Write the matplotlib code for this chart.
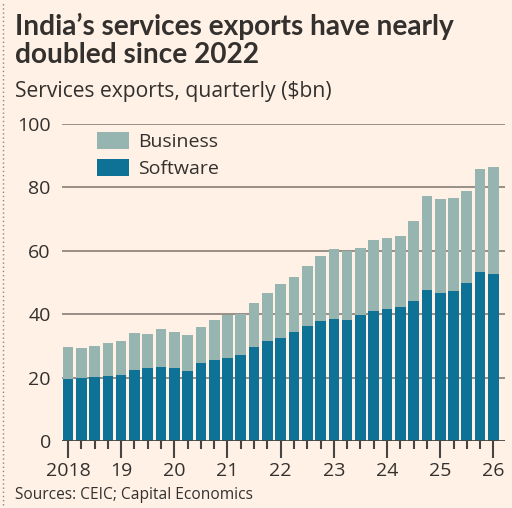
import numpy as np
import matplotlib
matplotlib.use("Agg")
from matplotlib import pyplot as plt
from matplotlib.lines import Line2D

# quarterly, 2018 Q1 .. 2026 Q1
quarters = [f"{y}Q{q}" for y in range(2018, 2026) for q in range(1, 5)] + ["2026Q1"]
software = [19.5, 19.7, 20.2, 20.5, 20.9, 22.5, 23.0, 23.4, 23.0, 22.2, 24.6, 25.5,
            26.3, 27.2, 29.5, 31.6, 32.4, 34.4, 36.2, 37.7, 38.4, 38.1, 39.6, 40.9,
            41.7, 42.1, 44.2, 47.7, 46.8, 47.3, 49.7, 53.2, 52.8]
business = [10.0, 9.5, 9.6, 10.4, 10.5, 11.5, 10.7, 11.8, 11.4, 11.3, 11.4, 12.5,
            13.4, 12.8, 14.0, 15.2, 17.1, 17.4, 19.1, 20.7, 22.1, 21.8, 21.3, 22.6,
            22.2, 22.6, 25.2, 29.5, 29.4, 29.4, 29.2, 32.5, 33.7]
year_labels = ["2018", "19", "20", "21", "22", "23", "24", "25", "26"]
y_ticks = [0, 20, 40, 60, 80, 100]

BG = "#FFF1E5"
TEXT = "#33302E"
SW_COL = "#0D7296"
BUS_COL = "#97B5B0"
GRID = "#7D746E"

plt.rcParams['font.family'] = ['Open Sans', 'DejaVu Sans']

fig = plt.figure(figsize=(5.12, 5.08), dpi=100, facecolor=BG)
ax = fig.add_axes([0.121, 0.132, 0.865, 0.624], facecolor=BG)

x = np.arange(len(quarters))
ax.bar(x, software, width=0.8, color=SW_COL, zorder=2, label="Software")
ax.bar(x, business, width=0.8, bottom=software, color=BUS_COL, zorder=2, label="Business")

ax.set_xlim(-0.45, 32.86)
ax.set_ylim(0, 100)
ax.set_yticks(y_ticks)
ax.set_yticklabels([str(v) for v in y_ticks], fontsize=14, color=TEXT)
ax.tick_params(axis="y", length=0, pad=8)
for v in y_ticks[1:]:
    ax.axhline(v, color=GRID, lw=1.1, zorder=1)
ax.axhline(0, color="#4a4440", lw=2, zorder=3)

ax.set_xticks(x[::4])
ax.set_xticklabels(year_labels, fontsize=14, color=TEXT)
ax.set_xticks(x, minor=True)
ax.tick_params(axis="x", which="major", length=12, width=1.5, color="#4a4440", pad=3)
ax.tick_params(axis="x", which="minor", length=6, width=1.5, color="#4a4440")

for s in ax.spines.values():
    s.set_visible(False)

handles, labels = ax.get_legend_handles_labels()
leg = ax.legend(handles[::-1], labels[::-1], loc="upper left", bbox_to_anchor=(0.079, 0.975),
                frameon=False, fontsize=14, handlelength=1.65, handleheight=1.0,
                labelspacing=0.4, handletextpad=0.45, borderaxespad=0, borderpad=0)
for t in leg.get_texts():
    t.set_color(TEXT)

fig.text(0.03, 0.931, "India\u2019s services exports have nearly",
         fontsize=20.2, fontweight="bold", color=TEXT, ha="left", va="baseline",
         family=["Lato", "DejaVu Sans"])
fig.text(0.03, 0.876, "doubled since 2022",
         fontsize=20.2, fontweight="bold", color=TEXT, ha="left", va="baseline",
         family=["Lato", "DejaVu Sans"])
fig.text(0.03, 0.809, "Services exports, quarterly ($bn)", fontsize=15.2, color=TEXT,
         ha="left", va="baseline")
fig.text(0.03, 0.018, "Sources: CEIC; Capital Economics", fontsize=11.2, color=TEXT,
         ha="left", va="baseline")

fig.add_artist(Line2D([0.006, 0.006], [0.005, 0.995], transform=fig.transFigure,
                      color="#8a8480", lw=1, ls=(0, (1, 2))))

fig.savefig("out.png", dpi=100, facecolor=BG)
